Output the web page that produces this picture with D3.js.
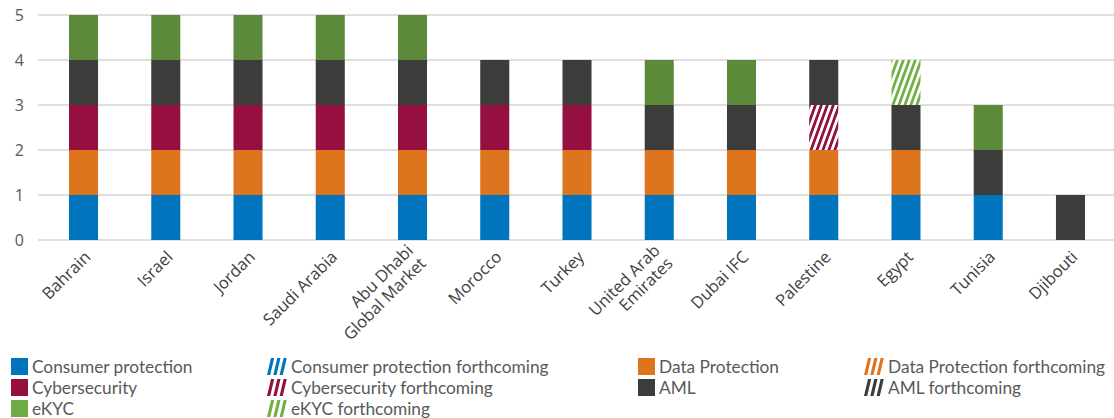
<!DOCTYPE html>
<html>
<head>
<meta charset="utf-8">
<script src="https://cdn.jsdelivr.net/npm/d3@7/dist/d3.min.js"></script>
<style>
  html, body { margin: 0; padding: 0; background: #fff; }
  svg { display: block; }
</style>
</head>
<body>
<svg id="chart" width="1114" height="418"></svg>
<script>
// ---------- data ----------
const categories = ["Bahrain", "Israel", "Jordan", "Saudi Arabia", "Abu Dhabi\nGlobal Market",
  "Morocco", "Turkey", "United Arab\nEmirates", "Dubai IFC", "Palestine", "Egypt", "Tunisia", "Djibouti"];

const consumerProtection      = [1,1,1,1,1,1,1,1,1,1,1,1,0];
const consumerProtectionFc    = [0,0,0,0,0,0,0,0,0,0,0,0,0];
const dataProtection          = [1,1,1,1,1,1,1,1,1,1,1,0,0];
const dataProtectionFc        = [0,0,0,0,0,0,0,0,0,0,0,0,0];
const cybersecurity           = [1,1,1,1,1,1,1,0,0,0,0,0,0];
const cybersecurityFc         = [0,0,0,0,0,0,0,0,0,1,0,0,0];
const aml                     = [1,1,1,1,1,1,1,1,1,1,1,1,1];
const amlFc                   = [0,0,0,0,0,0,0,0,0,0,0,0,0];
const ekyc                    = [1,1,1,1,1,0,0,1,1,0,0,1,0];
const ekycFc                  = [0,0,0,0,0,0,0,0,0,0,1,0,0];

const seriesNames = ["Consumer protection", "Consumer protection forthcoming",
  "Data Protection", "Data Protection forthcoming",
  "Cybersecurity", "Cybersecurity forthcoming",
  "AML", "AML forthcoming",
  "eKYC", "eKYC forthcoming"];
const seriesValues = [consumerProtection, consumerProtectionFc, dataProtection, dataProtectionFc,
  cybersecurity, cybersecurityFc, aml, amlFc, ekyc, ekycFc];
const seriesHatched = [false, true, false, true, false, true, false, true, false, true];
const seriesColors = ["#0174BE", "#0174BE", "#DD741E", "#DD741E", "#951040", "#951040",
  "#3C3C3B", "#3C3C3B", "#5D8A3A", "#72B043"];
const legendColors = ["#0174BE", "#0174BE", "#DD741E", "#DD741E", "#951040", "#951040",
  "#3C3C3B", "#3C3C3B", "#6FAC46", "#72B043"];

const yTicks = [0, 1, 2, 3, 4, 5];

// ---------- chart ----------
const svg = d3.select("#chart");
const W = 1114, H = 418;

const x = d3.scaleBand().domain(categories).range([42.4, 1111.6]).paddingInner(0.647).paddingOuter(0.3235);
const y = d3.scaleLinear().domain([0, 5]).range([240, 15]);

// patterns
const defs = svg.append("defs");
seriesNames.forEach((n, i) => {
  if (!seriesHatched[i]) return;
  const p = defs.append("pattern")
    .attr("id", "hatch" + i)
    .attr("patternUnits", "userSpaceOnUse")
    .attr("width", 5.6).attr("height", 10)
    .attr("patternTransform", "rotate(20)");
  p.append("rect").attr("width", 5.6).attr("height", 10).attr("fill", "#fff");
  p.append("rect").attr("width", 2.8).attr("height", 10).attr("fill", seriesColors[i]);
});

// gridlines
svg.append("g").selectAll("line").data(yTicks).join("line")
  .attr("x1", 38).attr("x2", W)
  .attr("y1", d => y(d)).attr("y2", d => y(d))
  .attr("stroke", "#d4d4d4").attr("stroke-width", 1.5);

// y labels
svg.append("g").selectAll("text").data(yTicks).join("text")
  .attr("x", 24).attr("y", d => y(d)).attr("dy", "0.35em")
  .attr("text-anchor", "end")
  .attr("font-family", "'Open Sans', sans-serif").attr("font-size", 16)
  .attr("fill", "#595959")
  .text(d => d);

// stack
const rows = categories.map((c, j) => {
  const r = { cat: c };
  seriesNames.forEach((n, i) => r[n] = seriesValues[i][j]);
  return r;
});
const stacked = d3.stack().keys(seriesNames)(rows);

svg.append("g").selectAll("g").data(stacked).join("g")
  .attr("fill", (d, i) => seriesHatched[i] ? `url(#hatch${i})` : seriesColors[i])
  .selectAll("rect").data(d => d.filter(s => s[1] - s[0] > 0)).join("rect")
  .attr("x", d => x(d.data.cat))
  .attr("width", x.bandwidth())
  .attr("y", d => y(d[1]))
  .attr("height", d => y(d[0]) - y(d[1]));

// x labels
const xl = svg.append("g").attr("font-family", "'Open Sans', sans-serif")
  .attr("font-size", 16.5).attr("fill", "#404040");
categories.forEach(c => {
  const lines = c.split("\n");
  const cx = x(c) + x.bandwidth() / 2;
  const t = xl.append("text")
    .attr("transform", `translate(${cx + 4},${254}) rotate(-45)`)
    .attr("text-anchor", "end");
  const off = -(lines.length - 1) * 0.55;
  lines.forEach((l, k) => {
    t.append("tspan").attr("x", 0)
      .attr("dy", k === 0 ? (off + 0.35) + "em" : "1.1em")
      .text(l);
  });
});

// legend
const legCols = [11, 266, 638, 863];
const legRows = [367, 388, 409];
const lg = svg.append("g").attr("font-family", "Lato, sans-serif").attr("font-size", 17.3).attr("fill", "#595959");
seriesNames.forEach((n, i) => {
  const col = i % 4, row = Math.floor(i / 4);
  const lx = legCols[col], ly = legRows[row];
  const g = lg.append("g").attr("transform", `translate(${lx},${ly})`);
  if (!seriesHatched[i]) {
    g.append("rect").attr("x", 0).attr("y", -9).attr("width", 17).attr("height", 17).attr("fill", legendColors[i]);
    g.append("text").attr("x", 21).attr("y", 0).attr("dy", "0.35em").text(n);
  } else {
    const path = d3.path();
    for (let k = 0; k < 3; k++) {
      const bx = 1 + k * 6.3;
      path.moveTo(bx, 8);
      path.lineTo(bx + 3.2, 8);
      path.lineTo(bx + 7.2, -9);
      path.lineTo(bx + 4, -9);
      path.closePath();
    }
    g.append("path").attr("d", path.toString()).attr("fill", legendColors[i]);
    g.append("text").attr("x", 25).attr("y", 0).attr("dy", "0.35em").text(n);
  }
});
</script>
</body>
</html>
